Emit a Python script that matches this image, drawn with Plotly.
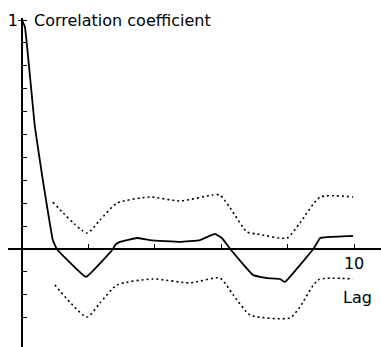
import plotly.graph_objects as go

# Correlation coefficient (solid)
lag_r = [0.0, 0.09, 0.39, 0.63, 0.93, 1.05, 1.93, 2.74, 2.80, 2.95, 3.46, 3.86, 4.76, 5.36, 5.81, 6.02, 6.27,
         6.96, 7.38, 7.77, 7.92, 8.77, 8.98, 9.19, 9.97]
corr = [1.0, 0.97, 0.533, 0.30, 0.039, 0.0, -0.122, 0.0, 0.017, 0.031, 0.048, 0.039, 0.031, 0.039, 0.066, 0.048, 0.0,
        -0.114, -0.127, -0.131, -0.144, 0.0, 0.048, 0.052, 0.057]

# Upper confidence limit (dotted)
lag_u = [0.93, 1.96, 2.35, 2.86, 3.86, 4.76, 5.75, 5.96, 6.27, 6.78, 7.08, 7.98, 8.37, 8.98, 9.97]
upper = [0.205, 0.07, 0.127, 0.20, 0.227, 0.21, 0.236, 0.236, 0.179, 0.074, 0.066, 0.048, 0.114, 0.227, 0.227]

# Lower confidence limit (dotted)
lag_l = [0.99, 1.96, 2.35, 2.86, 3.95, 5.06, 5.96, 6.36, 6.87, 8.07, 8.37, 8.92, 9.97]
lower = [-0.157, -0.297, -0.236, -0.157, -0.131, -0.148, -0.127, -0.20, -0.288, -0.301, -0.253, -0.135, -0.131]

x_ticks = [2, 4, 6, 8, 10]
x_ticklabels = ["", "", "", "", "10"]
y_ticks = [-0.3, -0.2, -0.1, 0.1, 0.2, 0.3, 0.4, 0.5, 0.6, 0.7, 0.8, 0.9, 1.0]
y_ticklabels = ["", "", "", "", "", "", "", "", "", "", "", "", "1"]

FONT = "DejaVu Sans"

fig = go.Figure()
dot = dict(color="black", width=1.6, dash="2px,3px", shape="spline", smoothing=0.6)
fig.add_trace(go.Scatter(x=lag_u, y=upper, mode="lines", line=dot))
fig.add_trace(go.Scatter(x=lag_l, y=lower, mode="lines", line=dot))
fig.add_trace(go.Scatter(x=lag_r, y=corr, mode="lines",
                         line=dict(color="black", width=1.8, shape="spline", smoothing=0.25)))

xr = [-0.42, 10.81]
yr = [-0.428, 1.009]
ypos = (0 - xr[0]) / (xr[1] - xr[0])
xpos = (0 - yr[0]) / (yr[1] - yr[0])

fig.update_layout(
    width=381, height=347,
    margin=dict(l=8, r=0, t=18, b=0),
    paper_bgcolor="white", plot_bgcolor="white",
    showlegend=False,
    font=dict(family=FONT, size=15, color="black"),
    xaxis=dict(range=xr, showgrid=False, zeroline=False, showline=True, linecolor="black", linewidth=1.8,
               anchor="free", position=xpos, tickvals=x_ticks, ticktext=x_ticklabels,
               ticks="inside", ticklen=4, tickcolor="black", tickwidth=1.2,
               tickfont=dict(family=FONT, size=16)),
    yaxis=dict(range=yr, showgrid=False, zeroline=False, showline=True, linecolor="black", linewidth=1.8,
               anchor="free", position=ypos, tickvals=y_ticks, ticktext=y_ticklabels,
               ticks="inside", ticklen=4, tickcolor="black", tickwidth=1.2,
               tickfont=dict(family=FONT, size=16)),
    yaxis2=dict(range=yr, overlaying="y", anchor="free", position=ypos, showgrid=False, zeroline=False,
                showline=False, tickvals=[1.0], ticktext=[""], ticks="outside", ticklen=4,
                tickcolor="black", tickwidth=1.2),
    annotations=[
        dict(x=0.3, y=1.0, xref="x", yref="y", text="Correlation coefficient", showarrow=False,
             xanchor="left", yanchor="middle", font=dict(family=FONT, size=16)),
        dict(x=9.6, y=-0.21, xref="x", yref="y", text="Lag", showarrow=False,
             xanchor="left", yanchor="middle", font=dict(family=FONT, size=16)),
    ],
)
fig.add_trace(go.Scatter(x=[], y=[], yaxis="y2"))

fig.write_html("out.html")
